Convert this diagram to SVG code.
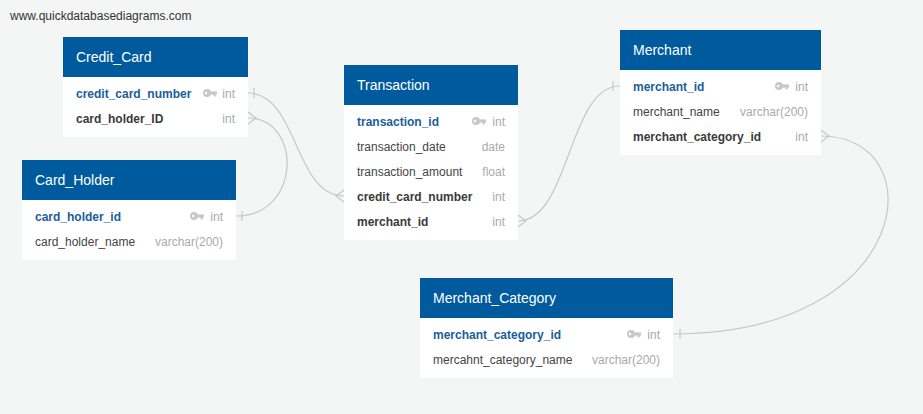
<svg xmlns="http://www.w3.org/2000/svg" width="923" height="414" viewBox="0 0 923 414">
<style>
.bg{fill:#f4f5f5}
.hd{fill:#005a9e}
.bd{fill:#ffffff}
.ht{font-family:"Liberation Sans",Arial,sans-serif;font-size:14px;fill:#ffffff}
.f{font-family:"Liberation Sans",Arial,sans-serif;font-size:12px;fill:#444444}
.fk{font-family:"Liberation Sans",Arial,sans-serif;font-size:12px;fill:#3a3a3a;font-weight:bold}
.pk{font-family:"Liberation Sans",Arial,sans-serif;font-size:12px;fill:#1a5e9a;font-weight:bold}
.ty{font-family:"Liberation Sans",Arial,sans-serif;font-size:12px;fill:#aaaaaa;text-anchor:end}
.url{font-family:"Liberation Sans",Arial,sans-serif;font-size:12px;fill:#333333}
.c{fill:none;stroke:#c8c8c8;stroke-width:1.2}
.key{fill:#c8c8c8}
</style>
<defs>
<g id="keyicon">
<circle cx="4" cy="0" r="4" class="key"/>
<circle cx="3" cy="0" r="1.2" fill="#ffffff"/>
<rect x="6" y="-1.6" width="8" height="3.2" class="key"/>
<rect x="10.5" y="0" width="2.2" height="3.4" class="key"/>
</g>
</defs>
<rect class="bg" x="0" y="0" width="923" height="414"/>
<text class="url" x="10" y="20">www.quickdatabasediagrams.com</text>

<g id="connectors">
<!-- Credit_Card.credit_card_number -> Transaction.credit_card_number -->
<path class="c" d="M248,93 C298,93 294,196 344,196"/>
<path class="c" d="M254,88 L254,98"/>
<path class="c" d="M344,190 L336,196 L344,202"/>
<!-- Credit_Card.card_holder_ID -> Card_Holder.card_holder_id -->
<path class="c" d="M248,118 C302,118 302,216 236,216"/>
<path class="c" d="M248,112 L256,118 L248,124"/>
<path class="c" d="M242,211 L242,221"/>
<!-- Transaction.merchant_id -> Merchant.merchant_id -->
<path class="c" d="M518,221 C570,221 568,86 620,86"/>
<path class="c" d="M518,215 L526,221 L518,227"/>
<path class="c" d="M613,81 L613,91"/>
<!-- Merchant.merchant_category_id -> Merchant_Category.merchant_category_id -->
<path class="c" d="M821,136 C935,136 915,334 673,334"/>
<path class="c" d="M821,130 L829,136 L821,142"/>
<path class="c" d="M680,329 L680,339"/>
</g>

<g id="Credit_Card">
<rect class="hd" x="63" y="37" width="185" height="40"/>
<rect class="bd" x="63" y="77" width="185" height="60"/>
<text class="ht" x="76" y="62">Credit_Card</text>
<text class="pk" x="76" y="98">credit_card_number</text>
<use href="#keyicon" x="203" y="93"/>
<text class="ty" x="235" y="98">int</text>
<text class="fk" x="76" y="123">card_holder_ID</text>
<text class="ty" x="235" y="123">int</text>
</g>

<g id="Card_Holder">
<rect class="hd" x="22" y="160" width="214" height="40"/>
<rect class="bd" x="22" y="200" width="214" height="60"/>
<text class="ht" x="35" y="185">Card_Holder</text>
<text class="pk" x="35" y="221">card_holder_id</text>
<use href="#keyicon" x="190" y="216"/>
<text class="ty" x="223" y="221">int</text>
<text class="f" x="35" y="246">card_holder_name</text>
<text class="ty" x="223" y="246">varchar(200)</text>
</g>

<g id="Transaction">
<rect class="hd" x="344" y="65" width="174" height="40"/>
<rect class="bd" x="344" y="105" width="174" height="135"/>
<text class="ht" x="357" y="90">Transaction</text>
<text class="pk" x="357" y="126">transaction_id</text>
<use href="#keyicon" x="472" y="121"/>
<text class="ty" x="505" y="126">int</text>
<text class="f" x="357" y="151">transaction_date</text>
<text class="ty" x="505" y="151">date</text>
<text class="f" x="357" y="176">transaction_amount</text>
<text class="ty" x="505" y="176">float</text>
<text class="fk" x="357" y="201">credit_card_number</text>
<text class="ty" x="505" y="201">int</text>
<text class="fk" x="357" y="226">merchant_id</text>
<text class="ty" x="505" y="226">int</text>
</g>

<g id="Merchant">
<rect class="hd" x="620" y="30" width="201" height="40"/>
<rect class="bd" x="620" y="70" width="201" height="85"/>
<text class="ht" x="633" y="55">Merchant</text>
<text class="pk" x="633" y="91">merchant_id</text>
<use href="#keyicon" x="775" y="86"/>
<text class="ty" x="808" y="91">int</text>
<text class="f" x="633" y="116">merchant_name</text>
<text class="ty" x="808" y="116">varchar(200)</text>
<text class="fk" x="633" y="141">merchant_category_id</text>
<text class="ty" x="808" y="141">int</text>
</g>

<g id="Merchant_Category">
<rect class="hd" x="420" y="278" width="253" height="40"/>
<rect class="bd" x="420" y="318" width="253" height="60"/>
<text class="ht" x="433" y="303">Merchant_Category</text>
<text class="pk" x="433" y="339">merchant_category_id</text>
<use href="#keyicon" x="627" y="334"/>
<text class="ty" x="660" y="339">int</text>
<text class="f" x="433" y="364">mercahnt_category_name</text>
<text class="ty" x="660" y="364">varchar(200)</text>
</g>
</svg>
